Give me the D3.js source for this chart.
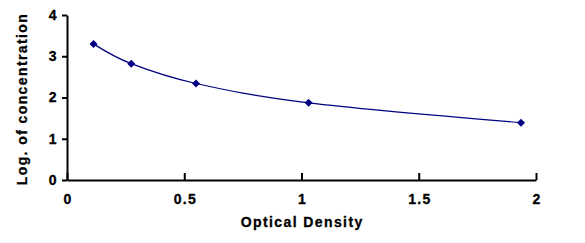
<!DOCTYPE html>
<html>
<head>
<meta charset="utf-8">
<script src="https://cdn.jsdelivr.net/npm/d3@7"></script>
<style>
  body { margin: 0; background: #fff; }
  text { font-family: Arial, "Liberation Sans", sans-serif; font-weight: bold; fill: #000; letter-spacing: 1.4px; stroke: #000; stroke-width: 0.3px; }
</style>
</head>
<body>
<svg id="chart" width="585" height="243"></svg>
<script>
const odValues = [0.113, 0.274, 0.550, 1.030, 1.936];
const logConc = [3.30, 2.82, 2.34, 1.87, 1.39];
const xTicks = [0, 0.5, 1, 1.5, 2];
const yTicks = [0, 1, 2, 3, 4];

const margin = {top: 15, right: 49, bottom: 63, left: 67};
const width = 585 - margin.left - margin.right;
const height = 243 - margin.top - margin.bottom;

const svg = d3.select("#chart")
    .append("g")
    .attr("transform", `translate(${margin.left},${margin.top})`);

const x = d3.scaleLinear().domain([0, 2]).range([0, width]);
const y = d3.scaleLinear().domain([0, 4]).range([height, 0]);

const data = odValues.map((d, i) => ({x: d, y: logConc[i]}));

// x axis, ticks point up into the plot
const xAxis = svg.append("g")
    .attr("transform", `translate(0,${height})`)
    .call(d3.axisBottom(x).tickValues(xTicks).tickFormat(d3.format("")).tickSizeInner(-7).tickSizeOuter(0).tickPadding(14));
xAxis.select(".domain").attr("stroke-width", 2);
xAxis.selectAll(".tick line").attr("stroke-width", 2);
xAxis.selectAll(".tick text").style("font-size", "14px").style("font-weight", "bold").attr("fill", "#000").attr("dx", "0.7px");

const yAxis = svg.append("g")
    .call(d3.axisLeft(y).tickValues(yTicks).tickFormat(d3.format("d")).tickSizeInner(5).tickSizeOuter(0).tickPadding(4));
yAxis.select(".domain").attr("stroke-width", 2);
yAxis.selectAll(".tick line").attr("stroke-width", 2);
yAxis.selectAll(".tick text").style("font-size", "14px").style("font-weight", "bold").attr("fill", "#000");

svg.append("text")
    .attr("text-anchor", "middle")
    .attr("x", width / 2 + 0.7)
    .attr("y", height + 47)
    .style("font-size", "14px")
    .text("Optical Density");

svg.append("text")
    .attr("text-anchor", "middle")
    .attr("transform", "rotate(-90)")
    .attr("x", -84)
    .attr("y", -40)
    .style("font-size", "14px")
    .text("Log. of concentration");

const line = d3.line()
    .x(d => x(d.x))
    .y(d => y(d.y))
    .curve(d3.curveCardinal.tension(0));

svg.append("path")
    .datum(data)
    .attr("fill", "none")
    .attr("stroke", "#000080")
    .attr("stroke-width", 1.2)
    .attr("d", line);

svg.selectAll(".pt")
    .data(data)
    .join("path")
    .attr("class", "pt")
    .attr("transform", d => `translate(${x(d.x)},${y(d.y)})`)
    .attr("d", "M0,-4L4,0L0,4L-4,0Z")
    .attr("fill", "#000080");
</script>
</body>
</html>
